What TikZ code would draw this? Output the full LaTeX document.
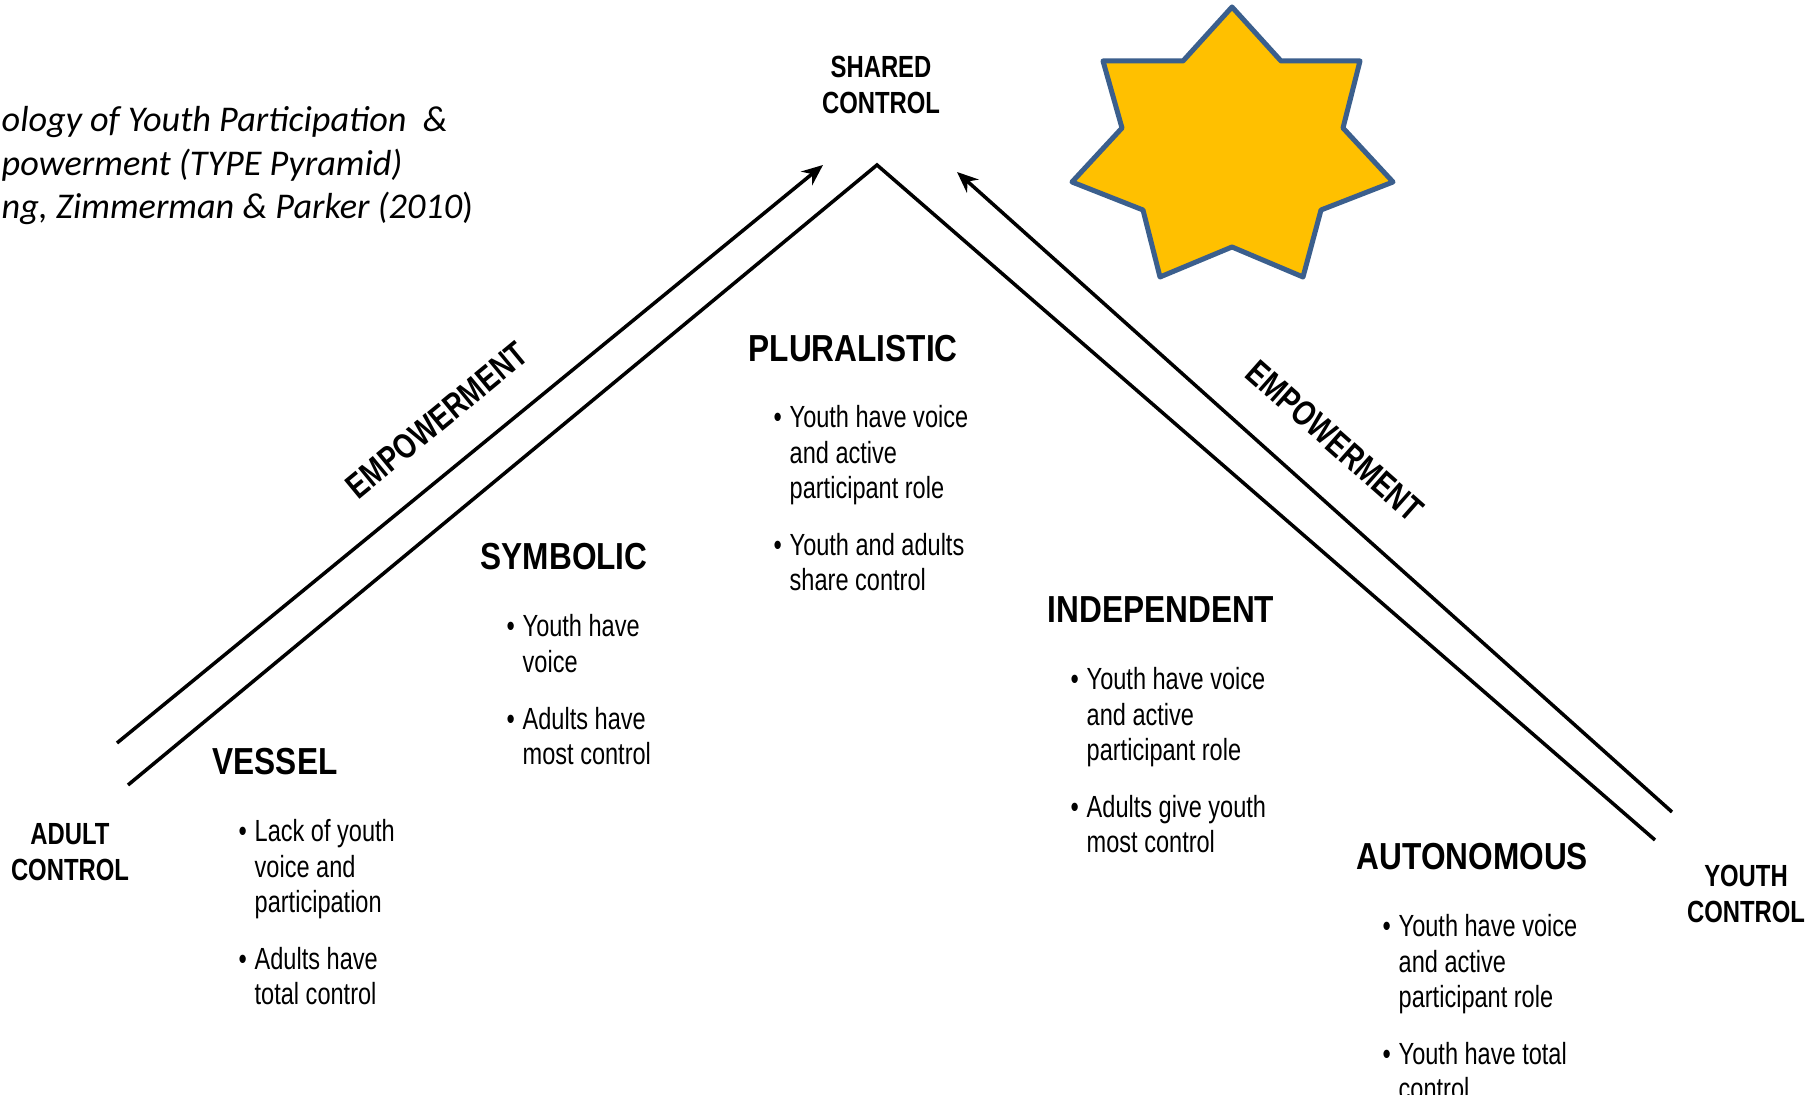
\documentclass[tikz,border=0pt]{standalone}
\usepackage{fontspec}
\setmainfont{Liberation Sans}
\newfontfamily\titlefont{Carlito}
\newfontfamily\headfont[FakeStretch=0.84]{Liberation Sans Bold}
\newfontfamily\capsfont[FakeStretch=0.78]{Liberation Sans Bold}
\newfontfamily\bodyfont[FakeStretch=0.77]{Liberation Sans}
\usepackage{xcolor}
\usetikzlibrary{arrows.meta}

\definecolor{stargold}{HTML}{FFC000}
\definecolor{starblue}{HTML}{3B5F8D}

% bullet points under each stage, hanging indent after the bullet
\newcommand{\stagepoints}[1]{\begin{tabular}[t]{@{}l@{\hspace{2.2pt}}l@{}}#1\end{tabular}}
% two-line centred labels at the corners
\newcommand{\ctrllines}[1]{\begin{tabular}[t]{@{}c@{}}#1\end{tabular}}

\begin{document}
\begin{tikzpicture}[x=0.01cm, y=-0.01cm,
	typetitle/.style={font=\titlefont\itshape\fontsize{10.3}{12.3}\selectfont, inner sep=0pt, anchor=base west},
	stagehead/.style={font=\headfont\fontsize{10.7}{12}\selectfont, inner sep=0pt, anchor=base west},
	stagelist/.style={font=\bodyfont\fontsize{8.7}{10}\selectfont, inner sep=0pt, anchor=base west},
	ctrl/.style={font=\capsfont\fontsize{8.7}{10}\selectfont, inner sep=0pt, anchor=base},
	emplabel/.style={font=\capsfont\fontsize{10}{12}\selectfont, inner sep=0pt},
	ridge/.style={line width=1pt, line join=miter},
	flow/.style={line width=1pt, -{Stealth[length=6pt,width=5pt]}}]

	\fill[white] (0,0) rectangle (1815,1095);
	\useasboundingbox (0,0) rectangle (1815,1095);

	% reference in the top left corner
	\node[typetitle] (title) at (1,132) {\begin{tabular}[t]{@{}l@{}}
		ology of Youth Participation\ \ \&\\
		powerment (TYPE Pyramid)\\
		ng, Zimmerman \& Parker (2010{\upshape)}
	\end{tabular}};

	% the pyramid and the two empowerment arrows
	\coordinate (adult-in) at (128,785);
	\coordinate (peak) at (877,165);
	\coordinate (youth-in) at (1655,840);
	\coordinate (adult-out) at (117,743);
	\coordinate (shared-left) at (823,165);
	\coordinate (youth-out) at (1672,812);
	\coordinate (shared-right) at (957,172);

	\draw[ridge] (adult-in) -- (peak) -- (youth-in);
	\draw[flow] (adult-out) -- (shared-left);
	\draw[flow] (youth-out) -- (shared-right);

	\node[emplabel, rotate=39.5] (emp-left) at (437,420) {EMPOWERMENT};
	\node[emplabel, rotate=-41.5] (emp-right) at (1335,441) {EMPOWERMENT};

	% corner labels
	\node[ctrl] (shared) at (881,78) {\ctrllines{SHARED\\CONTROL}};
	\node[ctrl] (adult) at (70,845) {\ctrllines{ADULT\\CONTROL}};
	\node[ctrl] (youth) at (1746,887) {\ctrllines{YOUTH\\CONTROL}};

	% the five types
	\node[stagehead] (vessel) at (212,775) {VESSEL};
	\node[stagelist] (vessel-pts) at ([shift={(26,67)}]vessel.base west) {\stagepoints{
		\textbullet & Lack of youth\\
		& voice and\\
		& participation\\[6.3pt]
		\textbullet & Adults have\\
		& total control}};

	\node[stagehead] (symbolic) at (480,570) {SYMBOLIC};
	\node[stagelist] (symbolic-pts) at ([shift={(26,67)}]symbolic.base west) {\stagepoints{
		\textbullet & Youth have\\
		& voice\\[6.3pt]
		\textbullet & Adults have\\
		& most control}};

	\node[stagehead] (pluralistic) at (748,362) {PLURALISTIC};
	\node[stagelist] (pluralistic-pts) at ([shift={(25,66)}]pluralistic.base west) {\stagepoints{
		\textbullet & Youth have voice\\
		& and active\\
		& participant role\\[6.3pt]
		\textbullet & Youth and adults\\
		& share control}};

	\node[stagehead] (independent) at (1047,623) {INDEPENDENT};
	\node[stagelist] (independent-pts) at ([shift={(23,67)}]independent.base west) {\stagepoints{
		\textbullet & Youth have voice\\
		& and active\\
		& participant role\\[6.3pt]
		\textbullet & Adults give youth\\
		& most control}};

	\node[stagehead] (autonomous) at (1356,870) {AUTONOMOUS};
	\node[stagelist] (autonomous-pts) at ([shift={(26,67)}]autonomous.base west) {\stagepoints{
		\textbullet & Youth have voice\\
		& and active\\
		& participant role\\[6.3pt]
		\textbullet & Youth have total\\
		& control}};

	% seven-pointed star
	\draw[starblue, fill=stargold, line width=0.5mm, line join=round]
		(1232,7) -- (1281,61) -- (1360,61) -- (1343,128) -- (1393,182) -- (1321,210) -- (1303,277)
		-- (1232,247) -- (1160,277) -- (1143,210) -- (1072,182) -- (1122,128) -- (1103,61) -- (1183,61) -- cycle;
\end{tikzpicture}
\end{document}
